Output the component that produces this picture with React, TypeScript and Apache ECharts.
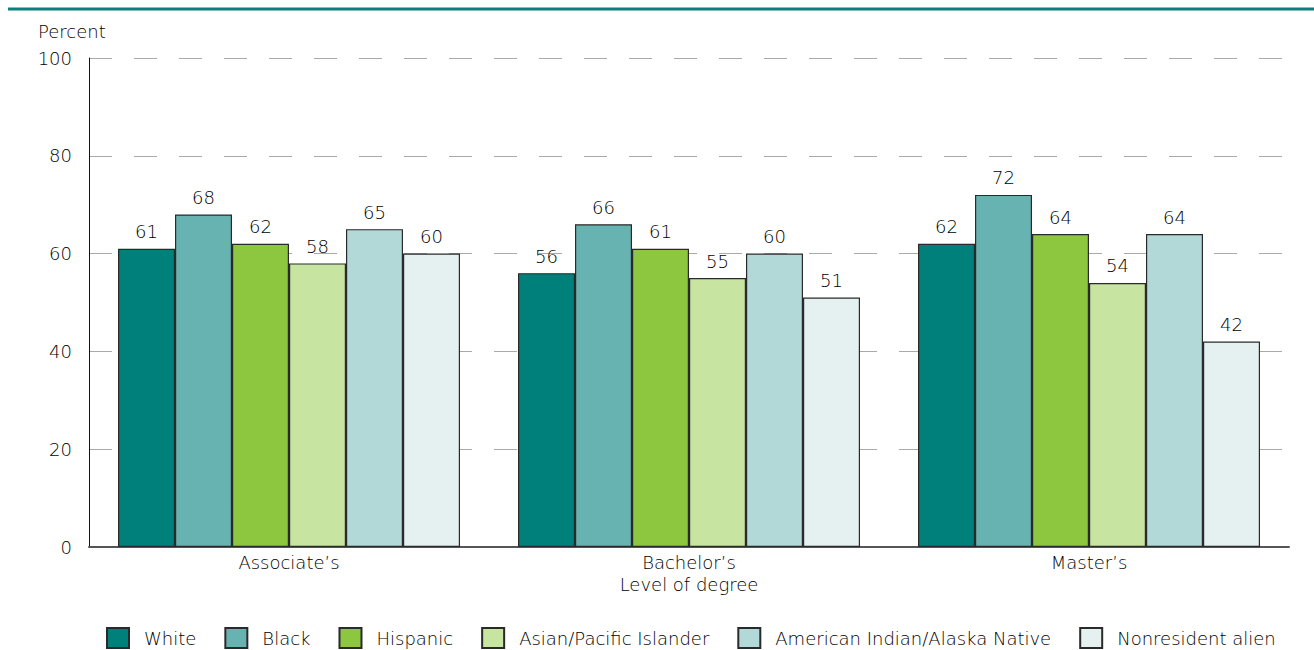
import React, { useEffect, useRef } from "react";
import * as echarts from "echarts";

const categories = ["Associate’s", "Bachelor’s", "Master’s"];
const seriesNames = [
  "White",
  "Black",
  "Hispanic",
  "Asian/Pacific Islander",
  "American Indian/Alaska Native",
  "Nonresident alien",
];
const white = [61, 56, 62];
const black = [68, 66, 72];
const hispanic = [62, 61, 64];
const asian = [58, 55, 54];
const aian = [65, 60, 64];
const nonresident = [60, 51, 42];
const seriesValues = [white, black, hispanic, asian, aian, nonresident];
const colors = ["#00807A", "#67B3B1", "#8DC63F", "#C7E4A0", "#B2D9D7", "#E5F1F1"];

const FONT = "DejaVu Sans";
const FS = 18;
const FW = 300;
const TXT = "#000";

export default function App() {
  const ref = useRef<HTMLDivElement>(null);
  useEffect(() => {
    if (!ref.current) return;
    const chart = echarts.init(ref.current, null, { renderer: "svg" });
    chart.setOption({
      animation: false,
      textStyle: { fontFamily: FONT, fontWeight: FW },
      grid: { left: 89, right: 25, top: 58, bottom: 103 },
      graphic: [
        {
          type: "line",
          shape: { x1: 8, y1: 9, x2: 1314, y2: 9 },
          style: { stroke: "#0A807A", lineWidth: 3 },
        },
        {
          type: "text",
          x: 38,
          y: 31,
          style: {
            text: "Percent",
            fontSize: FS,
            fontFamily: FONT,
            fontWeight: FW,
            fill: TXT,
            verticalAlign: "middle",
          },
        },
      ],
      legend: {
        left: 106,
        top: 627,
        padding: 0,
        icon: "rect",
        itemWidth: 22,
        itemHeight: 20,
        itemGap: 28,
        data: seriesNames,
        textStyle: {
          fontSize: FS,
          color: TXT,
          fontFamily: FONT,
          fontWeight: FW,
          padding: [0, 0, 0, 10],
        },
      },
      xAxis: {
        type: "category",
        data: categories,
        name: "Level of degree",
        nameLocation: "middle",
        nameGap: 21,
        nameTextStyle: { fontSize: FS, color: TXT, fontFamily: FONT, fontWeight: FW },
        axisLine: { lineStyle: { color: "#555", width: 2 } },
        axisTick: { show: false },
        axisLabel: { fontSize: FS, color: TXT, margin: 6, fontFamily: FONT, fontWeight: FW },
      },
      yAxis: {
        type: "value",
        min: 0,
        max: 100,
        interval: 20,
        axisLine: { show: true, lineStyle: { color: "#111", width: 1 } },
        axisTick: { show: false },
        axisLabel: { fontSize: FS, color: TXT, margin: 17, fontFamily: FONT, fontWeight: FW },
        splitLine: { lineStyle: { color: "#aaa", width: 1, type: [23, 22] } },
      },
      series: seriesNames.map((name, i) => ({
        name,
        type: "bar",
        data: seriesValues[i],
        barWidth: 57,
        barGap: "0%",
        itemStyle: { color: colors[i], borderColor: "#2a2a2a", borderWidth: 1.2 },
        label: {
          show: true,
          position: "top",
          distance: 8,
          fontSize: FS,
          color: TXT,
          fontFamily: FONT,
          fontWeight: FW,
        },
      })),
    });
    return () => chart.dispose();
  }, []);
  return (
    <div
      ref={ref}
      style={{ position: "absolute", left: 0, top: 0, width: 1314, height: 650 }}
    />
  );
}
